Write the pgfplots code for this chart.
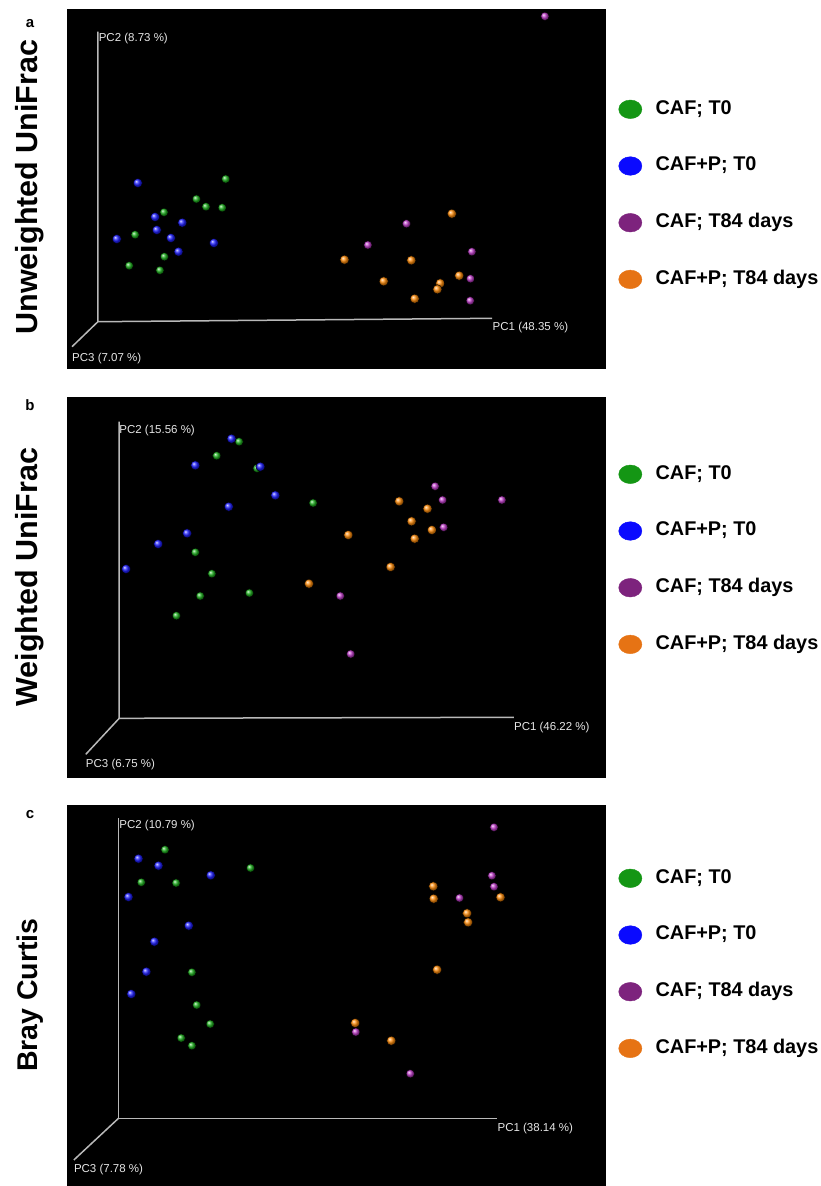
\documentclass[border=0pt]{standalone}
\usepackage{pgfplots}
\pgfplotsset{compat=1.18}
\usepackage{fontspec}
\setmainfont{Liberation Sans}
\definecolor{ptgreen}{RGB}{30,175,30}
\definecolor{ptblue}{RGB}{30,30,255}
\definecolor{ptmag}{RGB}{190,60,200}
\definecolor{ptorange}{RGB}{255,140,10}
\definecolor{lggreen}{RGB}{20,150,20}
\definecolor{lgblue}{RGB}{10,10,255}
\definecolor{lgpurple}{RGB}{125,35,125}
\definecolor{lgorange}{RGB}{230,115,20}
\definecolor{axgray}{RGB}{185,185,185}
\definecolor{lbl}{RGB}{230,230,230}
\newcommand\ls{\rule[-4pt]{0pt}{18pt}}
\tikzset{
 pclab/.style={text=lbl, anchor=west, inner sep=0pt, font=\fontsize{11.5}{13}\selectfont},
 side/.style={rotate=90, inner sep=0pt, font=\fontsize{#1}{32}\selectfont\bfseries},
 letter/.style={inner sep=0pt, font=\fontsize{15}{17}\selectfont\bfseries},
}
\pgfplotsset{
 panel/.style={
   anchor=north west, scale only axis, width=539pt, height=#1,
   xmin=67, xmax=606, y dir=reverse, ticks=none,
   axis line style={draw=none}, axis background/.style={fill=black},
   clip=false, legend cell align=left,
   legend style={draw=none, fill=none, inner sep=0pt, outer sep=0pt,
     anchor=north west, row sep=37.7pt, column sep=13.5pt,
     font=\fontsize{19.85}{22}\selectfont\bfseries, nodes={inner sep=0pt}},
 },
 leg/.style={legend image code/.code={\fill[#1] (11.6pt,-1.5pt) ellipse [x radius=11.6pt, y radius=9.3pt];}},
 pts/.style={only marks, mark=ball, mark size=#1, forget plot},
 ax/.style={axgray, line width=1.5pt, no marks, forget plot},
}
\newcommand\legs{%
 \addlegendimage{leg=lggreen}\addlegendentry{\ls CAF; T0}
 \addlegendimage{leg=lgblue}\addlegendentry{\ls CAF+P; T0}
 \addlegendimage{leg=lgpurple}\addlegendentry{\ls CAF; T84 days}
 \addlegendimage{leg=lgorange}\addlegendentry{\ls CAF+P; T84 days}}
\begin{document}
\begin{tikzpicture}
\useasboundingbox (0,0) rectangle (821pt,-1186pt);
% ---------------- panel a
\begin{axis}[panel=360pt, at={(67pt,-9pt)}, ymin=9, ymax=369,
  legend style={at={(axis cs:618.5,99.8)}}]
\legs
\addplot[ax] coordinates {(97.9,31.7) (97.9,321.7) (492.2,318.3)};
\addplot[ax] coordinates {(97.9,321.7) (72,346.7)};
\addplot[pts=4.2pt, ball color=ptgreen] coordinates {
(225.7,179) (196.4,199) (206,206.7) (222.2,207.7) (164,212.3)
(135.1,234.7) (164.4,256.7) (129.2,265.7) (159.9,270.3)};
\addplot[pts=4.6pt, ball color=ptblue] coordinates {
(137.8,183) (155.1,217) (182.3,222.7) (156.8,230) (116.8,239)
(170.9,238) (213.9,243) (178.5,251.7)};
\addplot[pts=4.2pt, ball color=ptmag] coordinates {
(544.9,16.3) (406.5,223.7) (367.9,245) (471.9,251.7) (470.5,278.7) (470.2,300.7)};
\addplot[pts=4.6pt, ball color=ptorange] coordinates {
(451.9,213.7) (344.5,259.7) (411.3,260.3) (383.7,281.3) (459.2,275.7)
(440.2,283.3) (437.4,289.3) (414.7,298.7)};
\node[pclab] at (axis cs:98.6,39) {PC2 (8.73 \%)};
\node[pclab] at (axis cs:492.5,327.3) {PC1 (48.35 \%)};
\node[pclab] at (axis cs:72,358.3) {PC3 (7.07 \%)};
\node[side=30.5] at (axis cs:30,187) {Unweighted UniFrac};
\node[letter] at (axis cs:30,24) {a};
\end{axis}
% ---------------- panel b
\begin{axis}[panel=381pt, at={(67pt,-397pt)}, ymin=397, ymax=778,
  legend style={at={(axis cs:618.5,464.8)}}]
\legs
\addplot[ax] coordinates {(119.2,421.7) (119.2,718.3) (513.9,717.3)};
\addplot[ax] coordinates {(119.2,718.3) (85.8,754.3)};
\addplot[pts=4.2pt, ball color=ptgreen] coordinates {
(239.1,441.7) (216.7,455.7) (257,468.3) (313.1,503) (195.3,552.3)
(211.9,573.7) (200.2,596) (249.4,593) (176.4,615.7)};
\addplot[pts=4.6pt, ball color=ptblue] coordinates {
(231.5,438.7) (195.3,465.3) (260.4,466.7) (275.3,495.3) (228.8,506.7)
(187.1,533.3) (158.2,544) (126.1,569)};
\addplot[pts=4.2pt, ball color=ptmag] coordinates {
(435.1,486.3) (442.6,500) (501.9,500) (443.7,527.3) (340.3,596) (350.7,654)};
\addplot[pts=4.6pt, ball color=ptorange] coordinates {
(399.2,501.3) (427.5,508.7) (411.6,521.3) (431.9,530) (414.7,538.7)
(348.3,535) (390.6,567) (309,583.7)};
\node[pclab] at (axis cs:119.2,430.3) {PC2 (15.56 \%)};
\node[pclab] at (axis cs:513.9,727.7) {PC1 (46.22 \%)};
\node[pclab] at (axis cs:85.8,764.7) {PC3 (6.75 \%)};
\node[side=30.5] at (axis cs:30,577) {Weighted UniFrac};
\node[letter] at (axis cs:30,405) {b};
\end{axis}
% ---------------- panel c
\begin{axis}[panel=381pt, at={(67pt,-805pt)}, ymin=805, ymax=1186,
  legend style={at={(axis cs:618.5,868.8)}}]
\legs
\addplot[ax] coordinates {(118.5,818.3) (118.5,1118.3) (497.4,1118.3)};
\addplot[ax] coordinates {(118.5,1118.3) (73.8,1160)};
\addplot[pts=4.2pt, ball color=ptgreen] coordinates {
(165,849.7) (250.5,868) (141.3,882.3) (176.1,883) (191.9,972.3)
(196.7,1005) (210.2,1024) (181.2,1038) (191.9,1045.7)};
\addplot[pts=4.6pt, ball color=ptblue] coordinates {
(138.5,858.7) (158.5,865.7) (210.8,875.3) (128.5,897) (188.8,925.7)
(154.4,941.7) (146.4,971.7) (131.3,994)};
\addplot[pts=4.2pt, ball color=ptmag] coordinates {
(494,827.3) (491.9,875.7) (494,886.7) (459.5,898) (355.8,1032) (410.3,1073.7)};
\addplot[pts=4.6pt, ball color=ptorange] coordinates {
(433.3,886.3) (433.7,898.7) (500.5,897.3) (467.1,913.3) (468.1,922.3)
(437.1,969.7) (355.2,1023) (391.3,1040.7)};
\node[pclab] at (axis cs:119.2,825.7) {PC2 (10.79 \%)};
\node[pclab] at (axis cs:497.4,1128.3) {PC1 (38.14 \%)};
\node[pclab] at (axis cs:73.8,1170) {PC3 (7.78 \%)};
\node[side=28.5] at (axis cs:30,995) {Bray Curtis};
\node[letter] at (axis cs:30,815) {c};
\end{axis}
\end{tikzpicture}
\end{document}
